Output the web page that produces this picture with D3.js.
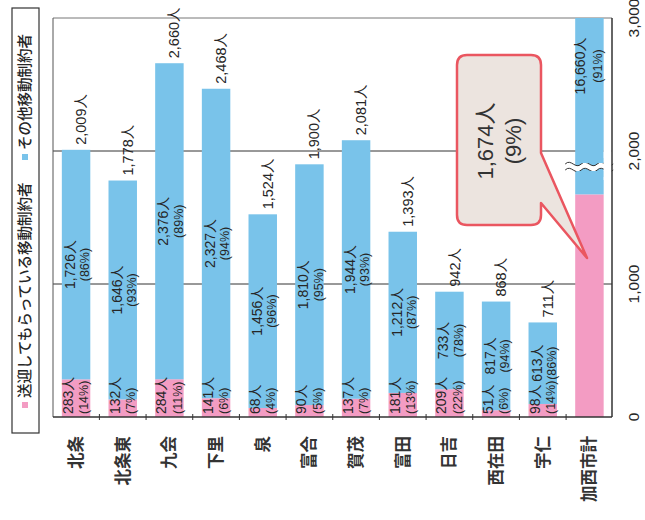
<!DOCTYPE html>
<html>
<head>
<meta charset="utf-8">
<script src="https://cdn.jsdelivr.net/npm/d3@7"></script>
<style>
  body { margin: 0; background: #fff; }
  text { font-family: "Liberation Sans", "Noto Sans CJK JP", sans-serif; fill: #262626; }
  .jp { font-family: "Noto Sans CJK JP", sans-serif; }
</style>
</head>
<body>
<div id="chart"></div>
<script>
// 地区ごとの移動制約者数
const categories = ["北条", "北条東", "九会", "下里", "泉", "富合", "賀茂", "富田", "日吉", "西在田", "宇仁", "加西市計"];
const pickup = [283, 132, 284, 141, 68, 90, 137, 181, 209, 51, 98, 1674];
const others = [1726, 1646, 2376, 2327, 1456, 1810, 1944, 1212, 733, 817, 613, 16660];
const pickupPct = [14, 7, 11, 6, 4, 5, 7, 13, 22, 6, 14, 9];
const othersPct = [86, 93, 89, 94, 96, 95, 93, 87, 78, 94, 86, 91];
const totals = [2009, 1778, 2660, 2468, 1524, 1900, 2081, 1393, 942, 868, 711, 18334];
const ticks = [0, 1000, 2000, 3000];
const legendLabels = ["送迎してもらっている移動制約者", "その他移動制約者"];

const pink = "#f39cc3";
const blue = "#79c3ea";

const width = 645, height = 520;
const plot = { left: 53, right: 612, top: 18, bottom: 417 };

const svg = d3.select("#chart").append("svg")
    .attr("width", width)
    .attr("height", height);

const x = d3.scaleBand()
    .domain(categories)
    .range([45.5, 620])
    .paddingInner(0.39)
    .paddingOuter(0.35);

const y = d3.scaleLinear()
    .domain([0, 3000])
    .range([plot.bottom, plot.top])
    .clamp(true);

const fmt = d3.format(",");

// rotated text helper (reads bottom to top)
function rtext(px, py, str, size, anchor, cls) {
    return svg.append("text")
        .attr("class", cls || null)
        .attr("transform", `translate(${px},${py}) rotate(-90)`)
        .attr("text-anchor", anchor)
        .attr("dy", "0.35em")
        .style("font-size", size + "px")
        .text(str);
}

// gridlines
svg.append("g")
   .selectAll("line")
   .data(ticks.slice(1))
   .join("line")
   .attr("x1", plot.left)
   .attr("x2", plot.right)
   .attr("y1", d => y(d))
   .attr("y2", d => y(d))
   .attr("stroke", d => d === 3000 ? "#777" : "#333")
   .attr("stroke-width", 1);

// left frame line
svg.append("line")
   .attr("x1", plot.left).attr("x2", plot.left)
   .attr("y1", plot.top).attr("y2", plot.bottom)
   .attr("stroke", "#555");

// bars
const bars = svg.append("g");
bars.selectAll(".pink")
    .data(categories)
    .join("rect")
    .attr("x", d => x(d))
    .attr("width", x.bandwidth())
    .attr("y", (d, i) => y(pickup[i]))
    .attr("height", (d, i) => y(0) - y(pickup[i]))
    .attr("fill", pink);

bars.selectAll(".blue")
    .data(categories)
    .join("rect")
    .attr("x", d => x(d))
    .attr("width", x.bandwidth())
    .attr("y", (d, i) => y(totals[i]))
    .attr("height", (d, i) => y(pickup[i]) - y(totals[i]))
    .attr("fill", blue);

// break mark on the total bar
const last = categories[categories.length - 1];
const bx = x(last);
const wave = (yy) => `M${bx - 10},${yy} c6,-6 10,6 16,0 s10,6 16,0 s10,6 16,0`;
svg.append("path")
   .attr("d", `${wave(164)} L${bx + 38},170 c-6,6 -10,-6 -16,0 s-10,-6 -16,0 s-10,-6 -16,0 Z`)
   .attr("fill", "#fff");
svg.append("path").attr("d", wave(164)).attr("fill", "none").attr("stroke", "#333").attr("stroke-width", 1);
svg.append("path").attr("d", wave(170)).attr("fill", "none").attr("stroke", "#333").attr("stroke-width", 1);
svg.append("rect").attr("x", bx + 1).attr("y", 158).attr("width", x.bandwidth() - 1).attr("height", 5).attr("fill", blue);
svg.append("rect").attr("x", bx + 1).attr("y", 171).attr("width", x.bandwidth() - 1).attr("height", 6).attr("fill", blue);
svg.append("rect").attr("x", bx + x.bandwidth()).attr("y", 150).attr("width", 8).attr("height", 30).attr("fill", "#fff");

// bottom axis line and category ticks
svg.append("line")
   .attr("x1", plot.left).attr("x2", plot.right)
   .attr("y1", plot.bottom).attr("y2", plot.bottom)
   .attr("stroke", "#333").attr("stroke-width", 1.5);
svg.append("g")
   .selectAll("line")
   .data(categories.slice(1))
   .join("line")
   .attr("x1", d => x(d) - x.step() * x.paddingInner() / 2)
   .attr("x2", d => x(d) - x.step() * x.paddingInner() / 2)
   .attr("y1", plot.bottom - 3)
   .attr("y2", plot.bottom + 3)
   .attr("stroke", "#333");

// right value axis
svg.append("line")
   .attr("x1", plot.right).attr("x2", plot.right)
   .attr("y1", plot.top).attr("y2", plot.bottom)
   .attr("stroke", "#333").attr("stroke-width", 1.5);
ticks.forEach(t => rtext(634, y(t), fmt(t), 15.5, "middle"));

// category labels
categories.forEach(c => {
    rtext(x(c) + x.bandwidth() / 2, 436, c, 16.5, "end", "jp").style("font-weight", "bold").style("fill", "#333");
});

// value labels
categories.forEach((c, i) => {
    const cx = x(c) + x.bandwidth() / 2;
    const isTotal = i === categories.length - 1;
    if (!isTotal) {
        rtext(cx + 5, y(totals[i]) - 5, fmt(totals[i]) + "人", 14.5, "start");
        rtext(cx - 8, plot.bottom - 3, fmt(pickup[i]) + "人", 14, "start");
        rtext(cx + 8, plot.bottom - 3, "(" + pickupPct[i] + "%)", 12.5, "start");
        const mid = (y(totals[i]) + y(pickup[i])) / 2;
        rtext(cx - 6, mid, fmt(others[i]) + "人", 14, "middle");
        rtext(cx + 9, mid, "(" + othersPct[i] + "%)", 12.5, "middle");
    } else {
        rtext(cx - 9, 66, fmt(others[i]) + "人", 14, "middle");
        rtext(cx + 8, 66, "(" + othersPct[i] + "%)", 12.5, "middle");
    }
});

// callout for the city total pickup
svg.append("path")
   .attr("d", "M467,55 H531 Q541,55 541,65 V153 L587,258 L541,203 V215 Q541,225 531,225 H467 Q457,225 457,215 V65 Q457,55 467,55 Z")
   .attr("fill", "#ece4df")
   .attr("stroke", "#ea5660")
   .attr("stroke-width", 2.5)
   .attr("stroke-linejoin", "round");
const li = categories.length - 1;
rtext(485, 141, fmt(pickup[li]) + "人", 22, "middle").style("fill", "#333");
rtext(513, 141, "(" + pickupPct[li] + "%)", 22, "middle").style("fill", "#333");

// legend
svg.append("rect")
   .attr("x", 12).attr("y", 8)
   .attr("width", 27).attr("height", 425)
   .attr("fill", "none")
   .attr("stroke", "#333").attr("stroke-width", 1.2);
const legendPos = [[405, pink], [157, blue]];
legendLabels.forEach((lab, i) => {
    const [ly, col] = legendPos[i];
    svg.append("rect").attr("x", 22).attr("y", ly - 3).attr("width", 6).attr("height", 6).attr("fill", col);
    rtext(25, ly - 7, lab, 14.5, "start", "jp").style("font-weight", "500");
});
</script>
</body>
</html>
